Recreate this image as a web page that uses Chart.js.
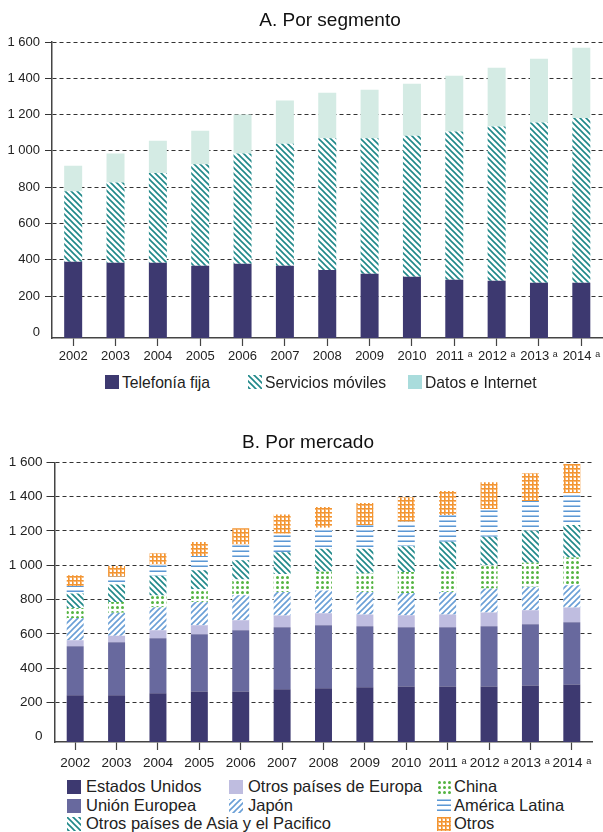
<!DOCTYPE html>
<html><head><meta charset="utf-8">
<script src="https://cdn.jsdelivr.net/npm/chart.js@4.4.1/dist/chart.umd.min.js"></script>
<style>
html,body{margin:0;padding:0;background:#fff;}
body{width:603px;height:832px;position:relative;overflow:hidden;font-family:'Liberation Sans',Arial,sans-serif;color:#222;}
.abs{position:absolute;white-space:nowrap;}
canvas.chart{position:absolute;left:0;}
.title{font-size:19px;line-height:19px;color:#111;transform:translateX(-50%);}
.lt{font-size:15.7px;line-height:15.7px;}
.lb{font-size:16.5px;line-height:16.5px;}
</style></head><body>
<canvas id="cA" class="chart" width="603" height="372" style="top:0"></canvas>
<canvas id="cB" class="chart" width="603" height="356" style="top:420px"></canvas>
<div class="abs title" style="left:330px;top:10px">A. Por segmento</div>
<div class="abs title" style="left:308px;top:432px">B. Por mercado</div>
<div id="legA"></div>
<div id="legB"></div>
<script>
// ---- data ----
const CATEGORIES = ['2002','2003','2004','2005','2006','2007','2008','2009','2010','2011 ᵃ','2012 ᵃ','2013 ᵃ','2014 ᵃ'];
const Y_TICKS = [0,200,400,600,800,1000,1200,1400,1600];

const TELEFONIA_FIJA    = [389,384,384,367,378,367,344,323,306,290,284,273,273];
const SERVICIOS_MOVILES = [388,442,494,559,608,673,725,746,778,817,851,884,908];
const DATOS_INTERNET    = [141,159,178,185,214,238,252,268,286,307,323,351,387];

const ESTADOS_UNIDOS = [241,241,253,264,264,276,282,288,293,293,293,299,305];
const UNION_EUROPEA  = [286,309,321,333,356,362,368,356,345,345,351,356,362];
const OTROS_EUROPA   = [35,39,47,53,59,68,70,68,70,74,80,82,86];
const JAPON          = [130,133,134,136,146,138,132,132,130,132,140,137,130];
const CHINA          = [59,64,68,74,92,104,111,108,123,131,136,140,162];
const OTROS_ASIA     = [84,101,115,111,112,128,133,144,150,162,166,189,189];
const AMERICA_LATINA = [44,45,66,82,92,107,122,138,142,155,161,171,185];
const OTROS          = [63,64,66,82,94,113,121,129,143,140,156,162,171];

// ---- styling ----
const FONT = "'Liberation Sans', Arial, 'DejaVu Sans', sans-serif";
const AXIS_FLOOR = -31;
const C = {navy:'#3d3970', eu:'#68699e', oe:'#bfbde0', teal:'#1f8889', blue:'#6a9fd6',
  green:'#55b443', orange:'#f39531', mint:'#d4ebe4', mintLegend:'#a9dcdc'};

function tile(kind){
  const t=document.createElement('canvas'); const g=t.getContext('2d');
  if(kind==='back'||kind==='fwd'){
    const s=6; t.width=t.height=s; g.fillStyle='#fff'; g.fillRect(0,0,s,s);
    g.strokeStyle = kind==='back'?C.teal:C.blue; g.lineWidth=1.6; g.beginPath();
    for(let k=-1;k<=1;k++){
      if(kind==='back'){ g.moveTo(k*s-1,-1); g.lineTo(k*s+s+1,s+1); }
      else { g.moveTo(s-(k*s-1),-1); g.lineTo(s-(k*s+s+1),s+1); }
    }
    g.stroke();
  } else if(kind==='dots'){
    t.width=t.height=5; g.fillStyle='#fff'; g.fillRect(0,0,5,5);
    g.fillStyle=C.green; g.beginPath(); g.arc(2.5,2.5,1.5,0,Math.PI*2); g.fill();
  } else if(kind==='hlines'){
    t.width=4; t.height=5; g.fillStyle='#fff'; g.fillRect(0,0,4,5);
    g.fillStyle='#a9c9ea'; g.fillRect(0,0,4,1);
    g.fillStyle='#5c98d4'; g.fillRect(0,1,4,1);
  } else if(kind==='grid'){
    t.width=t.height=4; g.fillStyle='#fff'; g.fillRect(0,0,4,4);
    g.fillStyle='#f7b878'; g.fillRect(0,1,4,1); g.fillRect(1,0,1,4);
    g.fillStyle=C.orange; g.fillRect(0,0,4,1); g.fillRect(0,0,1,4);
  }
  return t;
}
function pat(ctx,kind){ return ctx.createPattern(tile(kind),'repeat'); }
function fillFor(ctx,f){ return f.color ? f.color : pat(ctx,f.pattern); }

function fmt(v){ return String(v).replace(/\B(?=(\d{3})+(?!\d))/g,' '); }

function opts(cfg){
  return {
    responsive:false, animation:false, devicePixelRatio:1,
    layout:{padding:{top:cfg.padTop,left:0,right:cfg.padRight,bottom:0}},
    plugins:{legend:{display:false}, title:{display:false}, tooltip:{enabled:false}},
    datasets:{bar:{barPercentage:cfg.barPct, categoryPercentage:1, borderWidth:0}},
    scales:{
      x:{stacked:true,
         grid:{display:true, drawOnChartArea:false, offset:false, tickLength:8, color:'#444', tickWidth:1.2},
         border:{color:'#444', width:1.5},
         ticks:{color:'#222', font:{family:FONT,size:cfg.xFont}, padding:cfg.xPad, maxRotation:0, autoSkip:false},
         afterFit:s=>{s.height=34;}},
      y:{stacked:true, min:AXIS_FLOOR, max:1600,
         afterBuildTicks:s=>{s.ticks=Y_TICKS.map(v=>({value:v}));},
         grid:{color:c=>(c.tick&&c.tick.value===0)?'rgba(0,0,0,0)':'#333', lineWidth:1,
               tickLength:cfg.yTick, tickBorderDash:[]},
         border:{color:'#444', width:1.5, dash:[4,3]},
         ticks:{color:'#222', font:{family:FONT,size:cfg.yFont}, padding:cfg.yPad, callback:v=>fmt(v)},
         afterFit:s=>{s.width=cfg.yWidth;}}
    }
  };
}

// ---- Chart A ----
const ctxA=document.getElementById('cA').getContext('2d');
const SERIES_A=[
  {label:'Telefonía fija', data:TELEFONIA_FIJA, fill:{color:C.navy}},
  {label:'Servicios móviles', data:SERVICIOS_MOVILES, fill:{pattern:'back'}},
  {label:'Datos e Internet', data:DATOS_INTERNET, fill:{color:C.mint}, legendFill:{color:C.mintLegend}}
];
new Chart(ctxA,{type:'bar',
  data:{labels:CATEGORIES, datasets:SERIES_A.map((s,i)=>({label:s.label,data:s.data,
    backgroundColor:fillFor(ctxA,s.fill), base: i===0?AXIS_FLOOR:undefined}))},
  options:opts({padTop:42,padRight:0,barPct:0.425,xFont:13,xPad:3,yFont:13,yPad:5,yTick:7,yWidth:52})
});

// ---- Chart B ----
const ctxB=document.getElementById('cB').getContext('2d');
const SERIES_B=[
  {label:'Estados Unidos', data:ESTADOS_UNIDOS, fill:{color:C.navy}},
  {label:'Unión Europea', data:UNION_EUROPEA, fill:{color:C.eu}},
  {label:'Otros países de Europa', data:OTROS_EUROPA, fill:{color:C.oe}},
  {label:'Japón', data:JAPON, fill:{pattern:'fwd'}},
  {label:'China', data:CHINA, fill:{pattern:'dots'}},
  {label:'Otros países de Asia y el Pacifico', data:OTROS_ASIA, fill:{pattern:'back'}},
  {label:'América Latina', data:AMERICA_LATINA, fill:{pattern:'hlines'}},
  {label:'Otros', data:OTROS, fill:{pattern:'grid'}}
];
new Chart(ctxB,{type:'bar',
  data:{labels:CATEGORIES, datasets:SERIES_B.map((s,i)=>({label:s.label,data:s.data,
    backgroundColor:fillFor(ctxB,s.fill), base: i===0?AXIS_FLOOR:undefined}))},
  options:opts({padTop:42.3,padRight:10.5,barPct:0.41,xFont:13.5,xPad:5,yFont:13.5,yPad:4,yTick:8,yWidth:54.5})
});

// ---- HTML legends ----
function legendItem(parent, s, bx, by, tx, ty, cls){
  const cv=document.createElement('canvas'); cv.width=14; cv.height=14;
  cv.className='abs'; cv.style.left=bx+'px'; cv.style.top=by+'px';
  const g=cv.getContext('2d'); g.fillStyle=fillFor(g, s.legendFill||s.fill); g.fillRect(0,0,14,14);
  parent.appendChild(cv);
  const t=document.createElement('div'); t.className='abs '+cls; t.textContent=s.label;
  t.style.left=tx+'px'; t.style.top=ty+'px'; parent.appendChild(t);
}
const legA=document.getElementById('legA');
[[105,122],[248,265],[408,425]].forEach((p,i)=>legendItem(legA,SERIES_A[i],p[0],375,p[1],375.2,'lt'));

const legB=document.getElementById('legB');
const COLS=[[67,86],[229,248],[436.5,454]];
const ROWS=[[780,778.4],[798.5,796.8],[816.5,815.4]];
const PLACE=[[0,0],[0,1],[1,0],[1,1],[2,0],[0,2],[2,1],[2,2]]; // [col,row] per series
SERIES_B.forEach((s,i)=>{const [c,r]=PLACE[i];
  legendItem(legB,s,COLS[c][0],ROWS[r][0],COLS[c][1],ROWS[r][1],'lb');});
</script>
</body></html>
